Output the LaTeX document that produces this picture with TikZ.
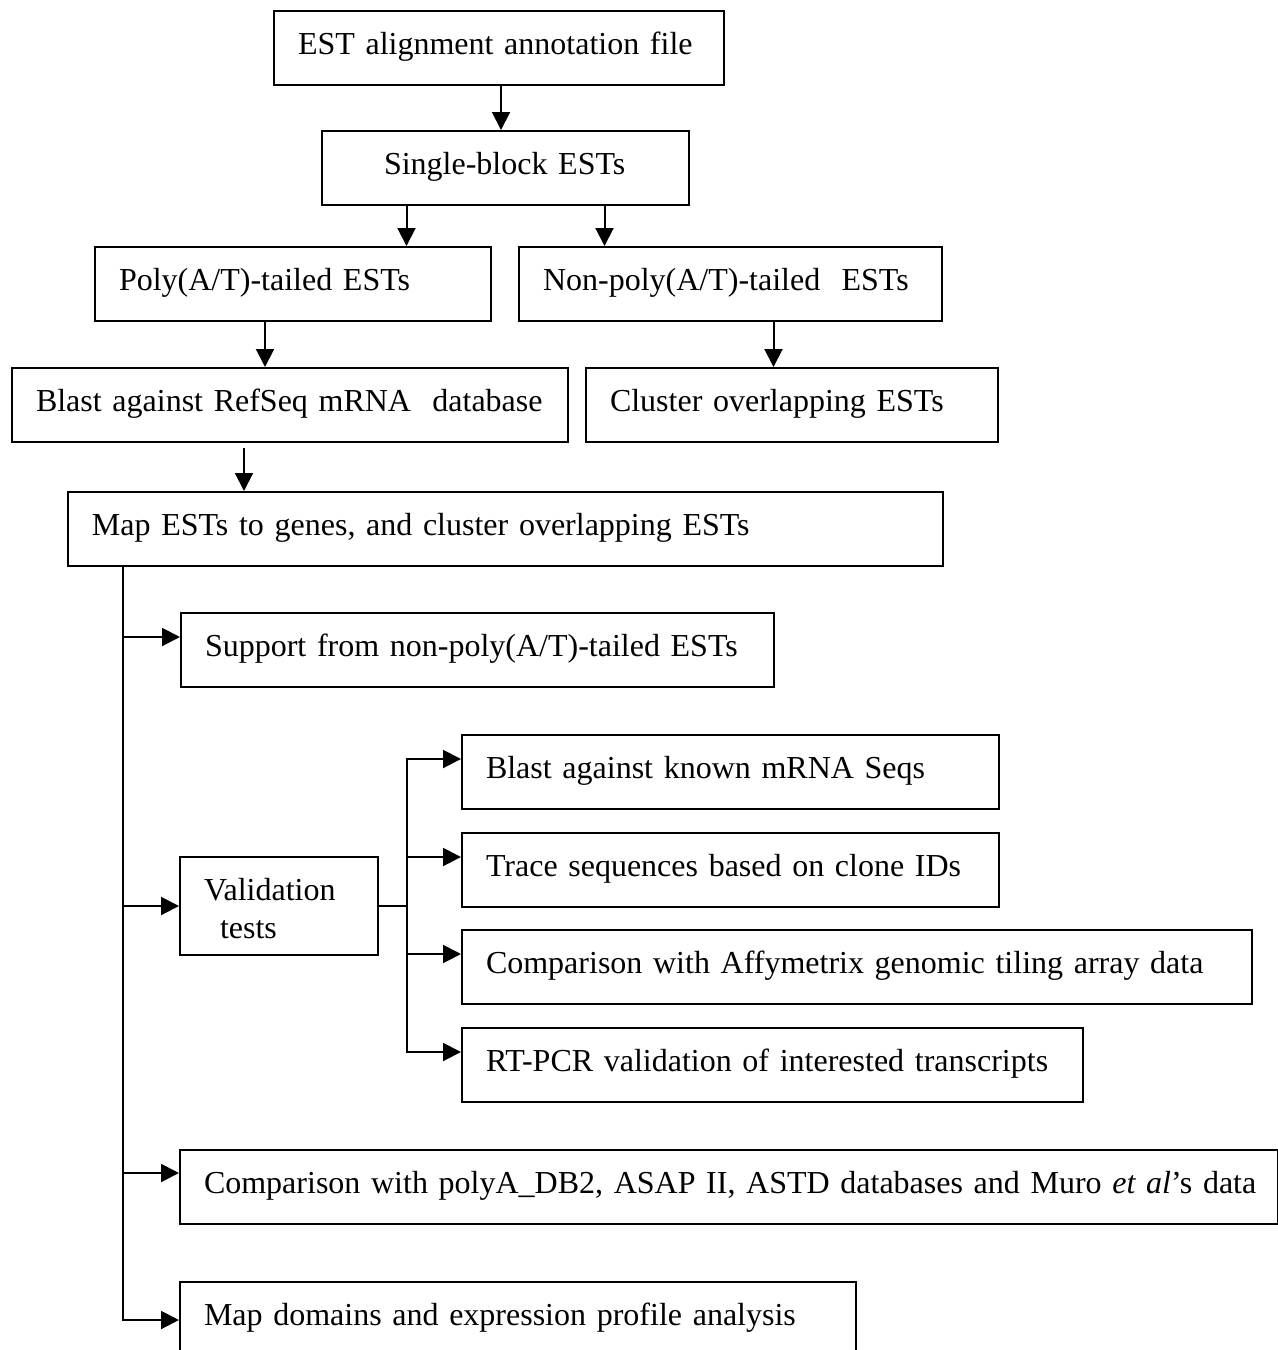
\documentclass[tikz,border=0pt]{standalone}
\usepackage{fontspec}
\setmainfont{Liberation Serif}
\usetikzlibrary{arrows.meta}
\begin{document}
\begin{tikzpicture}[x=0.5pt,y=-0.5pt,
	box/.style={draw,line width=1pt,anchor=north west,inner xsep=0pt,inner ysep=0pt,
		text width=#1,align=left,text height=21.5pt,text depth=15.5pt,
		font=\fontsize{16}{19}\selectfont,execute at begin node=\hspace*{12pt}},
	arr/.style={-{Triangle[length=9pt,width=9pt]},line width=1pt}]
	\useasboundingbox (0,0) rectangle (1278,1350);
	\node[box=225pt] (est) at (273,10) {EST alignment annotation file};
	\node[box=183.5pt] (single) at (321,130) {\hspace*{19pt}Single-block ESTs};
	\node[box=198pt] (poly) at (94,246) {Poly(A/T)-tailed ESTs};
	\node[box=211.5pt] (nonpoly) at (518,246) {Non-poly(A/T)-tailed\ \ ESTs};
	\node[box=278pt] (refseq) at (11,367) {Blast against RefSeq mRNA\ \ database};
	\node[box=206pt] (cluster) at (585,367) {Cluster overlapping ESTs};
	\node[box=437.5pt] (map) at (67,491) {Map ESTs to genes, and cluster overlapping ESTs};
	\node[box=296.5pt] (support) at (180,612) {Support from non-poly(A/T)-tailed ESTs};
	\node[box=99pt,text depth=27.5pt] (valid) at (179,856) {Validation\\\hspace*{20pt}tests};
	\node[box=268.5pt] (known) at (461,734) {Blast against known mRNA Seqs};
	\node[box=268.5pt] (trace) at (461,832) {Trace sequences based on clone IDs};
	\node[box=395pt] (affy) at (461,929) {Comparison with Affymetrix genomic tiling array data};
	\node[box=310.5pt] (rtpcr) at (461,1027) {RT-PCR validation of interested transcripts};
	\node[box=549pt] (polyadb) at (179,1149) {Comparison with polyA\_DB2, ASAP II, ASTD databases and Muro \textit{et al}'s data};
	\node[box=338pt] (domains) at (179,1281) {Map domains and expression profile analysis};

	\coordinate (a0) at ([xshift=1pt]est.south);
	\coordinate (a1) at ([xshift=-49.5pt]single.south);
	\coordinate (a2) at ([xshift=49.5pt]single.south);
	\coordinate (a3) at ([xshift=-14pt]poly.south);
	\coordinate (a4) at ([xshift=21.5pt]nonpoly.south);
	\coordinate (a5) at ([xshift=-23pt,yshift=-2.5pt]refseq.south);
	\draw[arr] (a0) -- (a0 |- single.north);
	\draw[arr] (a1) -- (a1 |- poly.north);
	\draw[arr] (a2) -- (a2 |- nonpoly.north);
	\draw[arr] (a3) -- (a3 |- refseq.north);
	\draw[arr] (a4) -- (a4 |- cluster.north);
	\draw[arr] (a5) -- (a5 |- map.north);

	\coordinate (trunk) at ([xshift=28pt]map.south west);
	\draw[arr] (trunk) |- ([yshift=-12.5pt]support.north west);
	\draw[arr] (trunk) |- (valid.west);
	\draw[arr] (trunk) |- ([yshift=-12pt]polyadb.north west);
	\draw[arr] (trunk) |- ([yshift=-19.5pt]domains.north west);

	\coordinate (fork) at ([xshift=14pt]valid.east);
	\draw[line width=1pt] (valid.east) -- (fork);
	\draw[arr] (fork) |- ([yshift=-12.5pt]known.north west);
	\draw[arr] (fork) |- ([yshift=-12.5pt]trace.north west);
	\draw[arr] (fork) |- ([yshift=-12.5pt]affy.north west);
	\draw[arr] (fork) |- ([yshift=-12.5pt]rtpcr.north west);
\end{tikzpicture}
\end{document}
